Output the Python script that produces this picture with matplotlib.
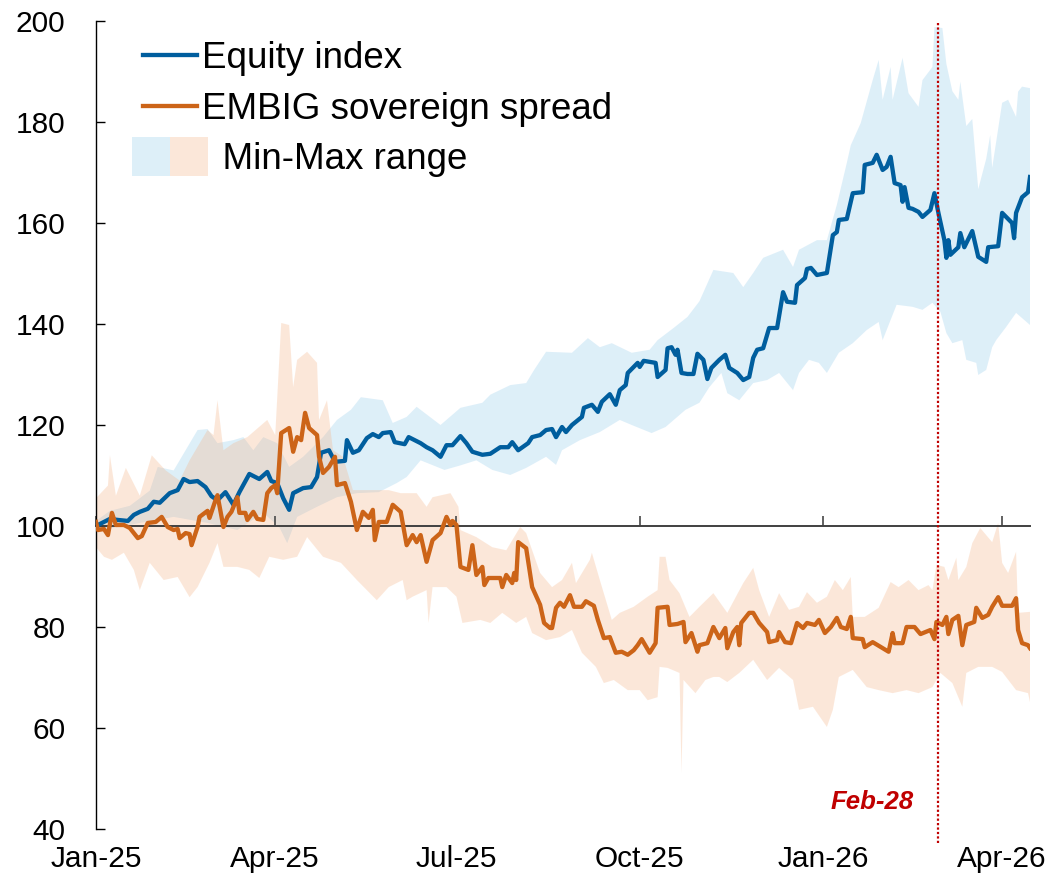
import numpy as np
import pandas as pd
import matplotlib
matplotlib.use('Agg')
import matplotlib.pyplot as plt
import matplotlib.dates as mdates
from matplotlib.patches import Rectangle
from matplotlib.legend_handler import HandlerBase

plt.rcParams['font.family'] = ['Liberation Sans', 'DejaVu Sans']

START = pd.Timestamp('2025-01-01')
EVENT_DATE = pd.Timestamp('2026-02-28')

# ---- data: days since 1 Jan 2025, index (start = 100) ----
equity_days = [0, 7, 11, 16, 19, 22, 26, 29, 32, 37, 41, 44, 47, 51, 55, 58, 61, 65, 69, 72,
               77, 82, 86, 88, 91, 94, 97, 99, 104, 108, 111, 113, 117, 120, 125, 126, 129, 132,
               136, 139, 142, 144, 148, 150, 155, 157, 160, 163, 166, 169, 173, 176, 179, 183,
               186, 189, 194, 198, 203, 207, 209, 212, 217, 219, 223, 226, 229, 231, 234, 236,
               239, 244, 245, 249, 252, 254, 258, 261, 263, 266, 267, 270, 272, 273, 275, 281,
               282, 286, 287, 289, 291, 292, 294, 297, 300, 302, 305, 307, 309, 313, 316, 318,
               322, 325, 328, 330, 332, 335, 338, 342, 345, 347, 351, 352, 356, 357, 359, 362,
               367, 370, 372, 373, 377, 380, 385, 386, 390, 392, 395, 397, 399, 401, 404, 405,
               406, 408, 410, 413, 415, 419, 421, 423, 426, 427, 428, 429, 433, 434, 436, 440,
               443, 447, 448, 453, 455, 460, 461, 462, 465, 468, 469]
equity = [100.0, 101.4, 101.2, 101.0, 102.2, 102.8, 103.4, 104.8, 104.6, 106.5, 107.1, 109.3,
          108.7, 108.9, 107.7, 105.9, 105.1, 106.7, 104.2, 106.7, 110.3, 109.3, 110.7, 108.9,
          108.5, 105.5, 103.2, 106.5, 107.5, 107.7, 109.7, 114.5, 115.0, 112.7, 112.9, 117.0,
          114.5, 115.0, 117.4, 118.2, 117.6, 118.4, 118.6, 116.6, 116.2, 117.6, 117.0, 116.4,
          115.6, 115.0, 113.7, 116.0, 116.0, 117.8, 116.4, 114.7, 114.1, 114.3, 115.6, 115.6,
          116.6, 115.0, 116.4, 117.6, 118.0, 119.0, 119.2, 117.6, 119.6, 118.6, 120.0, 121.6,
          123.4, 124.0, 122.6, 124.6, 126.1, 124.0, 126.9, 127.9, 130.3, 131.5, 132.3, 131.5,
          132.7, 132.3, 129.5, 130.9, 135.2, 135.4, 133.9, 134.9, 130.3, 130.1, 130.1, 134.1,
          132.9, 129.1, 131.3, 132.9, 133.9, 131.3, 130.3, 128.9, 129.5, 133.3, 134.9, 135.2,
          139.2, 139.2, 146.3, 144.4, 144.2, 147.7, 149.1, 150.9, 151.1, 149.7, 150.1, 157.6,
          158.2, 160.6, 160.8, 165.9, 166.1, 171.5, 171.9, 173.5, 170.5, 171.1, 173.1, 167.9,
          167.5, 164.2, 167.1, 163.0, 162.8, 162.2, 161.2, 162.6, 165.9, 162.0, 156.6, 153.1,
          156.6, 153.7, 155.2, 158.0, 155.2, 158.4, 153.3, 152.3, 155.2, 155.4, 162.0, 160.0,
          157.0, 162.0, 165.1, 166.1, 169.1]

equity_max_days = [0, 7, 17, 27, 31, 39, 51, 56, 61, 69, 74, 79, 84, 91, 97, 104, 114, 121, 128,
                   133, 144, 149, 156, 161, 173, 183, 194, 198, 208, 216, 220, 226, 239, 247, 253,
                   259, 269, 278, 282, 290, 297, 303, 310, 320, 325, 330, 335, 345, 350, 353, 362,
                   367, 372, 377, 379, 384, 390, 393, 395, 399, 400, 405, 408, 413, 415, 420, 421,
                   425, 427, 430, 433, 434, 437, 440, 443, 447, 449, 450, 455, 458, 462, 463, 465,
                   469]
equity_max = [101, 103, 104, 107, 111.7, 111, 119, 119.2, 116.4, 117, 117.6, 115, 117.6, 116.4,
              111.7, 113.7, 117.6, 121, 123, 125.5, 124.9, 120.4, 121.6, 123.6, 120, 123.4,
              124.4, 126, 127.9, 128.3, 130.9, 134.5, 134.3, 137.2, 135.4, 136.2, 134.3, 134.9,
              136.8, 139.2, 141.4, 144.5, 150.7, 150.1, 147.3, 150.1, 153.1, 154.7, 151.3, 154.7,
              156.6, 156.6, 163.6, 171.9, 175.4, 179.8, 188.3, 192.3, 184.4, 190.9, 184.4, 192.7,
              185.7, 183, 188.3, 190.9, 198.8, 198.6, 191.5, 186.1, 184.4, 188, 179.2, 180.6,
              166.7, 172.7, 177.4, 170.9, 183.8, 184.4, 181, 186, 187, 186.7]

equity_min_days = [0, 22, 39, 56, 71, 84, 92, 96, 101, 111, 121, 131, 142, 151, 156, 163, 175,
                   183, 191, 199, 208, 216, 226, 231, 234, 243, 253, 263, 269, 279, 286, 296, 303,
                   308, 314, 317, 323, 330, 337, 343, 350, 353, 358, 363, 367, 373, 380, 387, 393,
                   395, 402, 410, 415, 420, 424, 427, 430, 435, 437, 442, 443, 447, 450, 452, 457,
                   462, 469]
equity_min = [99, 100.6, 101.8, 100.6, 99.2, 102.6, 99.8, 96.6, 101.8, 103.8, 105.7, 106.5, 106.7,
              108.5, 109.7, 113, 111.1, 112, 113, 111.1, 110.1, 111.5, 113.7, 112.1, 115, 117,
              118.6, 121, 120, 118.4, 119.6, 123, 124.4, 127.5, 130.3, 126.3, 124.9, 128.3, 128.9,
              130.3, 126.9, 130.3, 132.9, 132.3, 130.3, 134.3, 136.2, 138.8, 140.4, 136.8, 143.8,
              143.4, 142.8, 144.2, 142.4, 138.2, 136.2, 136.8, 132.9, 132.3, 129.9, 130.9, 135.4,
              136.8, 139.4, 142.2, 139.8]

spread_days = [0, 1, 4, 6, 8, 10, 14, 17, 21, 23, 26, 30, 33, 36, 39, 41, 42, 45, 47, 48, 51, 52,
               56, 57, 60, 61, 64, 66, 68, 71, 72, 75, 76, 79, 81, 84, 86, 88, 90, 91, 93, 97, 99,
               101, 103, 105, 107, 111, 112, 114, 117, 120, 121, 125, 128, 131, 134, 137, 139, 140,
               142, 146, 149, 153, 156, 159, 161, 163, 166, 169, 173, 176, 178, 179, 181, 183, 187,
               189, 191, 194, 195, 197, 203, 204, 206, 209, 210, 211, 212, 216, 219, 223, 225, 228,
               229, 231, 233, 235, 238, 240, 244, 246, 250, 252, 255, 258, 261, 264, 267, 270, 272,
               274, 278, 281, 282, 287, 288, 292, 295, 296, 299, 302, 303, 307, 310, 313, 316, 317,
               320, 322, 323, 324, 328, 330, 333, 337, 338, 342, 343, 346, 349, 352, 355, 357, 361,
               363, 366, 369, 372, 374, 377, 379, 380, 385, 386, 390, 395, 398, 400, 401, 405, 407,
               411, 414, 419, 421, 422, 425, 427, 428, 430, 433, 435, 437, 441, 442, 445, 448, 450,
               453, 455, 460, 462, 463, 465, 468, 469]
spread = [100.8, 99.2, 99.4, 98.2, 102.6, 100.2, 100.2, 99.6, 97.6, 98.0, 100.6, 100.8, 101.8,
          99.8, 99.2, 99.4, 97.6, 98.6, 98.4, 96.2, 99.8, 101.8, 103.0, 101.6, 105.1, 106.1, 99.8,
          101.8, 102.8, 105.7, 102.6, 102.6, 101.2, 102.8, 101.4, 101.2, 106.5, 107.5, 108.1,
          106.5, 118.4, 119.4, 114.7, 117.6, 117.0, 122.4, 119.4, 118.0, 113.7, 110.5, 111.7,
          113.7, 108.1, 108.5, 104.8, 99.2, 102.8, 101.6, 103.2, 97.2, 100.8, 100.8, 104.2, 102.8,
          96.2, 98.2, 96.8, 98.2, 92.9, 97.2, 98.6, 101.8, 100.2, 101.0, 100.2, 91.9, 91.3, 96.2,
          90.3, 91.9, 88.3, 89.7, 89.7, 87.9, 90.3, 88.7, 90.7, 89.3, 96.8, 95.6, 87.9, 84.4, 80.8,
          79.8, 79.8, 83.8, 84.8, 84.0, 86.3, 84.0, 84.0, 85.1, 84.2, 81.4, 77.8, 78.0, 74.9, 75.1,
          74.5, 75.4, 76.4, 77.6, 74.9, 76.8, 83.8, 84.0, 80.4, 80.6, 81.0, 77.0, 78.8, 75.1, 76.4,
          76.8, 80.0, 77.8, 79.8, 75.8, 79.0, 80.0, 76.4, 80.8, 82.8, 82.8, 80.8, 79.0, 77.0, 77.4,
          79.0, 77.0, 76.8, 80.8, 79.8, 80.8, 80.4, 81.4, 78.8, 80.0, 81.8, 80.0, 79.6, 82.0, 77.8,
          77.6, 76.0, 77.0, 75.8, 75.1, 78.8, 76.8, 76.8, 80.0, 80.0, 78.6, 79.4, 77.6, 81.0, 80.4,
          82.0, 78.6, 81.4, 82.2, 76.4, 80.4, 81.0, 83.8, 81.8, 82.4, 84.0, 85.9, 84.2, 84.2, 85.7,
          79.4, 76.8, 76.4, 75.8]

spread_max_days = [0, 6, 7, 10, 15, 22, 28, 35, 42, 47, 56, 59, 61, 64, 69, 76, 86, 90, 93, 97,
                   99, 101, 106, 111, 112, 116, 119, 124, 129, 139, 147, 153, 161, 166, 169, 178,
                   182, 183, 191, 199, 206, 213, 216, 223, 229, 234, 239, 241, 248, 249, 253, 259,
                   263, 270, 277, 282, 283, 286, 288, 293, 298, 303, 310, 317, 325, 330, 333, 338,
                   343, 348, 353, 357, 362, 367, 371, 375, 379, 380, 386, 393, 399, 403, 408, 413,
                   418, 420, 422, 426, 428, 432, 433, 437, 440, 444, 450, 453, 455, 458, 462, 463,
                   469]
spread_max = [105.5, 108, 114, 106, 111.5, 106, 114, 111, 109, 113, 119, 118, 124.9, 115, 116.4,
              117.6, 121, 118, 140.2, 139.8, 127.5, 132.9, 134.5, 132.3, 121, 124.9, 115, 113.7,
              107.1, 107.1, 107.1, 106.5, 106.5, 103.8, 105.7, 106.5, 103.8, 99.2, 97.8, 95.8,
              95.2, 99.8, 98.6, 90.7, 87.9, 89.3, 92.7, 88.7, 93.3, 94.7, 89.3, 81.4, 82.8, 84,
              86, 87.3, 93.9, 93.9, 89.3, 86.7, 82, 84, 86.7, 82.8, 88.7, 91.7, 87.3, 82, 86.7,
              83.4, 84, 86.9, 84.8, 86, 89.3, 87.3, 89.9, 82, 82, 83.8, 88.9, 87.9, 89.3, 87.3,
              88.3, 87.3, 92.3, 91.9, 89.3, 93.7, 89.3, 91.9, 96.6, 99.6, 96.8, 100.6, 92.7, 90.7,
              94.9, 82.8, 83]

spread_min_days = [0, 4, 8, 14, 19, 22, 27, 34, 41, 47, 51, 57, 61, 64, 71, 77, 82, 87, 94, 101,
                   106, 114, 123, 131, 141, 147, 154, 156, 159, 166, 167, 169, 176, 181, 184, 193,
                   198, 204, 211, 216, 219, 226, 233, 239, 244, 251, 255, 260, 267, 273, 277, 282,
                   283, 287, 293, 294, 295, 301, 306, 310, 313, 317, 323, 330, 337, 343, 350, 353,
                   360, 367, 370, 373, 380, 387, 393, 400, 407, 413, 420, 424, 430, 435, 437, 443,
                   450, 455, 462, 468, 469]
spread_min = [95.8, 93.9, 93.3, 94.7, 91.3, 87.3, 92.7, 89.3, 89.9, 85.9, 87.9, 92.7, 96.6, 91.9,
              91.9, 91.3, 89.7, 93.9, 93.3, 93.9, 97.8, 93.9, 92.7, 89.3, 85.3, 87.9, 89.3, 85.3,
              86, 87.3, 80.8, 87.9, 87.9, 86, 80.8, 81.4, 80.8, 82.8, 80.8, 82, 78.8, 77.4, 78,
              79.4, 74.9, 72.1, 68.9, 69.5, 67.5, 67.5, 65.5, 66.1, 72.1, 71.9, 70.9, 51.1, 69.5,
              66.9, 69.5, 70.1, 70.1, 69.1, 70.9, 73.5, 69.5, 71.9, 69.5, 63.6, 64.2, 60.2, 63.6,
              70.1, 71.5, 68.1, 67.5, 66.9, 67.5, 66.9, 68.1, 70.9, 68.9, 64.2, 70.9, 72.1, 72.1,
              71.1, 67.5, 66.9, 65.1]

series_labels = ['Equity index', 'EMBIG sovereign spread', 'Min-Max range']
event_label = 'Feb-28'

BLUE = '#005E9E'
ORANGE = '#CC6418'
BLUE_FILL = '#91CAEB'
ORANGE_FILL = '#F5B284'
FILL_ALPHA = 0.3
EVENT_RED = '#C00000'


def to_num(days):
    return mdates.date2num((START + pd.to_timedelta(np.array(days), unit='D')).to_pydatetime())


def band(ax, hi_days, hi, lo_days, lo, color):
    xs = np.concatenate([to_num(hi_days), to_num(lo_days)[::-1]])
    ys = np.concatenate([np.array(hi), np.array(lo)[::-1]])
    ax.fill(xs, ys, color=color, alpha=FILL_ALPHA, lw=0, zorder=1)


class RangeHandler(HandlerBase):
    # two side-by-side swatches for the combined min-max legend entry
    def create_artists(self, legend, orig_handle, xdescent, ydescent, width, height, fontsize, trans):
        u = width / 54.0
        h = 39 * u
        yc = height / 2 - ydescent
        left = Rectangle((-xdescent - 11 * u, yc - h / 2), 38 * u, h, facecolor=BLUE_FILL,
                         alpha=FILL_ALPHA, lw=0, transform=trans)
        right = Rectangle((-xdescent + 27 * u, yc - h / 2), 38 * u, h, facecolor=ORANGE_FILL,
                          alpha=FILL_ALPHA, lw=0, transform=trans)
        return [left, right]


fig, ax = plt.subplots(figsize=(10.56, 8.89), dpi=100)
fig.subplots_adjust(left=0.0909, right=0.9754, top=0.9764, bottom=0.0675)

band(ax, equity_max_days, equity_max, equity_min_days, equity_min, BLUE_FILL)
band(ax, spread_max_days, spread_max, spread_min_days, spread_min, ORANGE_FILL)

l1, = ax.plot(to_num(equity_days), equity, color=BLUE, lw=3.1, zorder=3,
              solid_joinstyle='round')
l2, = ax.plot(to_num(spread_days), spread, color=ORANGE, lw=3.1, zorder=4,
              solid_joinstyle='round')

ev = mdates.date2num(EVENT_DATE.to_pydatetime())
ax.axvline(ev, ymin=-0.017, ymax=1, color=EVENT_RED, ls=(0, (1, 1)), lw=1.6,
           clip_on=False, zorder=5)
ax.text(ev - 12.5, 45.3, event_label, color=EVENT_RED, fontsize=18.5, fontweight='bold',
        fontstyle='italic', ha='right', va='center')

ax.set_xlim(to_num([0])[0], to_num([469])[0])
ax.set_ylim(40, 200)
ax.set_yticks(range(40, 201, 20))

ax.xaxis.set_major_locator(mdates.MonthLocator(bymonth=[1, 4, 7, 10]))
ax.xaxis.set_major_formatter(mdates.DateFormatter('%b-%y'))

for side in ['top', 'right']:
    ax.spines[side].set_visible(False)
ax.spines['left'].set_linewidth(1.0)
ax.spines['bottom'].set_position(('data', 100))
ax.spines['bottom'].set_color('#404040')
ax.spines['bottom'].set_linewidth(1.4)
ax.spines['bottom'].set_zorder(2.5)

ax.tick_params(axis='y', direction='in', length=6.5, width=1.0, pad=22, labelsize=21.5)
ax.tick_params(axis='x', direction='in', length=7, width=1.3, color='#555555', pad=230,
               labelsize=21.5)

dummy = Rectangle((0, 0), 1, 1)
ax.legend([l1, l2, dummy], [series_labels[0], series_labels[1], '  ' + series_labels[2]],
          handler_map={dummy: RangeHandler()}, loc='upper left',
          bbox_to_anchor=(0.0503, 0.975), frameon=False, fontsize=26.5,
          handlelength=1.47, handletextpad=0.14, borderpad=0, borderaxespad=0,
          labelspacing=0.42)

fig.savefig('out.png', dpi=100)
